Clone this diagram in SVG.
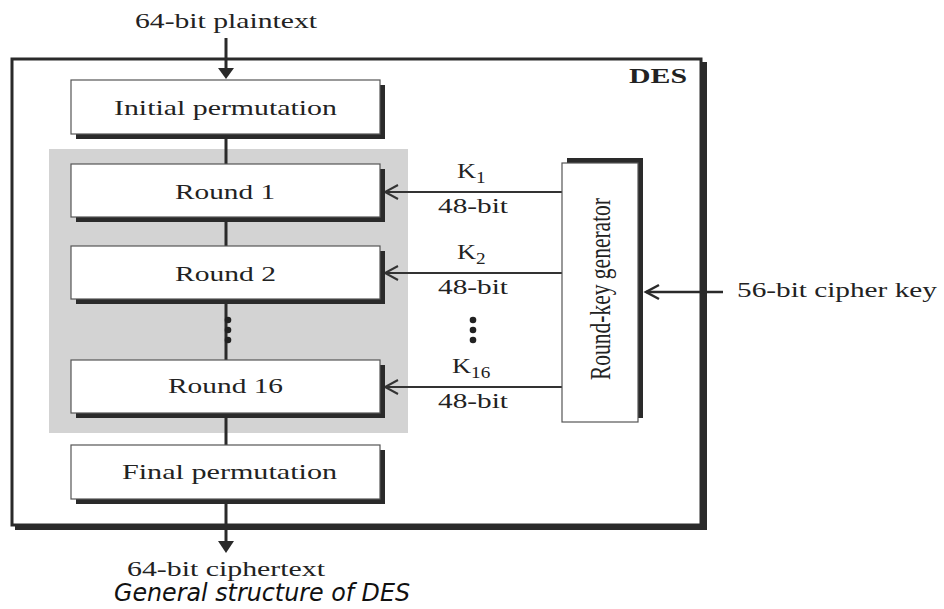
<svg xmlns="http://www.w3.org/2000/svg" width="944" height="609" viewBox="0 0 944 609">
<style>
.t{font-family:"Liberation Serif","Times New Roman",serif;font-size:22px;fill:#222}
.box{fill:#fff;stroke:#555;stroke-width:1.2}
.sh{fill:#2a2a2a}
.ln{stroke:#2a2a2a;stroke-width:3;fill:none}
.ka{stroke:#333;stroke-width:2;fill:none}
</style>
<rect width="944" height="609" fill="#fff"/>
<g id="des">
<rect x="15" y="62" width="692" height="468" class="sh"/>
<rect x="12" y="59" width="689" height="466" fill="#fff" stroke="#2a2a2a" stroke-width="3"/>
<text transform="translate(629,83) scale(1.3,1)" class="t" style="font-weight:bold;font-size:21px" textLength="44.6" lengthAdjust="spacingAndGlyphs">DES</text>
</g>
<rect id="roundsArea" x="49" y="149" width="359" height="284" fill="#d3d3d3"/>
<g id="connectors">
<line x1="226" y1="38" x2="226" y2="68" class="ln"/>
<path d="M218,68 L234,68 L226,79 Z" fill="#2a2a2a"/>
<line x1="226" y1="134" x2="226" y2="445" class="ln"/>
<line x1="226" y1="499" x2="226" y2="542" class="ln"/>
<path d="M218,541 L234,541 L226,553 Z" fill="#2a2a2a"/>
<line x1="562" y1="192" x2="385" y2="192" class="ka"/>
<path d="M398,185 L385,192 L398,199" fill="none" stroke="#333" stroke-width="2"/>
<line x1="562" y1="273" x2="385" y2="273" class="ka"/>
<path d="M398,266 L385,273 L398,280" fill="none" stroke="#333" stroke-width="2"/>
<line x1="562" y1="387" x2="385" y2="387" class="ka"/>
<path d="M398,380 L385,387 L398,394" fill="none" stroke="#333" stroke-width="2"/>
<line x1="723" y1="292" x2="646" y2="292" stroke="#2a2a2a" stroke-width="2.5"/>
<path d="M659,285 L646,292 L659,299" fill="none" stroke="#2a2a2a" stroke-width="2.5"/>
<text transform="translate(457,178) scale(1.2,1)" class="t" font-size="21">K<tspan font-size="16" dy="5">1</tspan></text>
<text transform="translate(438,213) scale(1.3,1)" class="t" textLength="53.8" lengthAdjust="spacingAndGlyphs">48-bit</text>
<text transform="translate(457,259) scale(1.2,1)" class="t" font-size="21">K<tspan font-size="16" dy="5">2</tspan></text>
<text transform="translate(438,294) scale(1.3,1)" class="t" textLength="53.8" lengthAdjust="spacingAndGlyphs">48-bit</text>
<text transform="translate(452,373) scale(1.2,1)" class="t" font-size="21">K<tspan font-size="16" dy="5">16</tspan></text>
<text transform="translate(438,408) scale(1.3,1)" class="t" textLength="53.8" lengthAdjust="spacingAndGlyphs">48-bit</text>
<circle cx="473" cy="320" r="3.3" fill="#222"/><circle cx="473" cy="330" r="3.3" fill="#222"/><circle cx="473" cy="340" r="3.3" fill="#222"/>
<circle cx="228" cy="320" r="3.3" fill="#222"/><circle cx="228" cy="330" r="3.3" fill="#222"/><circle cx="228" cy="340" r="3.3" fill="#222"/>
</g>
<g id="initial">
<rect x="76" y="85" width="309" height="54" class="sh"/>
<rect x="71" y="80" width="309" height="54" class="box"/>
<text transform="translate(114,115) scale(1.3,1)" class="t" font-size="24" textLength="171.5" lengthAdjust="spacingAndGlyphs">Initial permutation</text>
</g>
<g id="round1">
<rect x="76" y="169" width="309" height="53" class="sh"/>
<rect x="71" y="164" width="309" height="53" class="box"/>
<text transform="translate(175,199) scale(1.3,1)" class="t" textLength="77" lengthAdjust="spacingAndGlyphs">Round 1</text>
</g>
<g id="round2">
<rect x="76" y="251" width="309" height="53" class="sh"/>
<rect x="71" y="246" width="309" height="53" class="box"/>
<text transform="translate(175,281) scale(1.3,1)" class="t" textLength="77.7" lengthAdjust="spacingAndGlyphs">Round 2</text>
</g>
<g id="round16">
<rect x="76" y="365" width="309" height="53" class="sh"/>
<rect x="71" y="360" width="309" height="53" class="box"/>
<text transform="translate(168,393) scale(1.3,1)" class="t" textLength="88.5" lengthAdjust="spacingAndGlyphs">Round 16</text>
</g>
<g id="final">
<rect x="76" y="450" width="309" height="54" class="sh"/>
<rect x="71" y="445" width="309" height="54" class="box"/>
<text transform="translate(122,479) scale(1.3,1)" class="t" font-size="24" textLength="165.4" lengthAdjust="spacingAndGlyphs">Final permutation</text>
</g>
<g id="keygen">
<rect x="567" y="158" width="76" height="260" class="sh"/>
<rect x="562" y="163" width="76" height="259" class="box"/>
<text transform="translate(610,289) scale(1.3,1) rotate(-90)" x="-91" y="0" class="t" font-size="23" textLength="182" lengthAdjust="spacingAndGlyphs">Round-key generator</text>
</g>
<text transform="translate(135,28) scale(1.3,1)" class="t" textLength="140" lengthAdjust="spacingAndGlyphs">64-bit plaintext</text>
<text transform="translate(127,576) scale(1.3,1)" class="t" textLength="152.3" lengthAdjust="spacingAndGlyphs">64-bit ciphertext</text>
<text transform="translate(737,297) scale(1.3,1)" class="t" textLength="153.8" lengthAdjust="spacingAndGlyphs">56-bit cipher key</text>
<text x="114" y="601" font-family="DejaVu Sans, sans-serif" font-style="italic" font-size="24" fill="#111" textLength="296" lengthAdjust="spacingAndGlyphs">General structure of DES</text>
</svg>
